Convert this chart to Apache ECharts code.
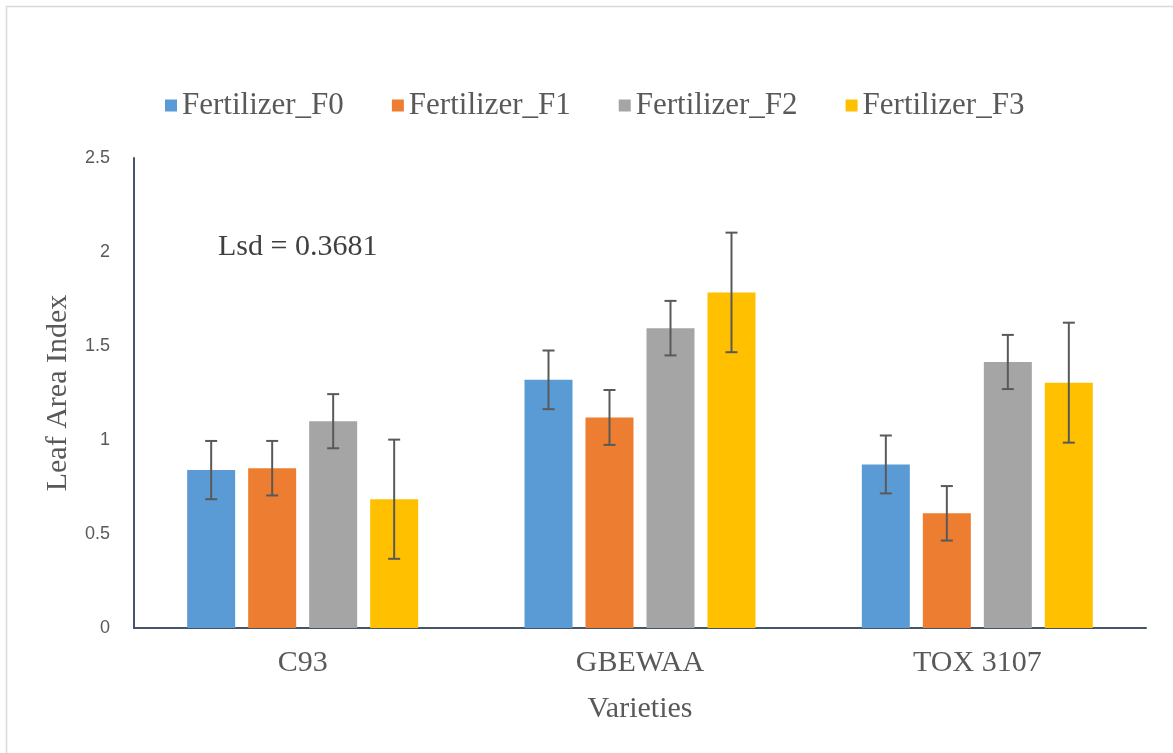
<!DOCTYPE html>
<html>
<head>
<meta charset="utf-8">
<style>
  html, body { margin: 0; padding: 0; background: #ffffff; }
  #chart { width: 1173px; height: 753px; }
</style>
<script src="https://cdn.jsdelivr.net/npm/echarts@6/dist/echarts.min.js"></script>
</head>
<body>
<div id="chart"></div>
<script>
// Leaf area index by variety and fertilizer level (mean ± error)
const categories = ['C93', 'GBEWAA', 'TOX 3107'];
const seriesNames = ['Fertilizer_F0', 'Fertilizer_F1', 'Fertilizer_F2', 'Fertilizer_F3'];
const f0 = [0.84, 1.32, 0.87];
const f1 = [0.85, 1.12, 0.61];
const f2 = [1.10, 1.595, 1.415];
const f3 = [0.685, 1.785, 1.305];
const f0Err = [0.155, 0.156, 0.154];
const f1Err = [0.145, 0.146, 0.145];
const f2Err = [0.144, 0.145, 0.144];
const f3Err = [0.317, 0.318, 0.319];
const yTicks = [0, 0.5, 1, 1.5, 2, 2.5];
const lsdText = 'Lsd = 0.3681';

const colors = ['#5B9BD5', '#ED7D31', '#A5A5A5', '#FFC000'];
const values = [f0, f1, f2, f3];
const errors = [f0Err, f1Err, f2Err, f3Err];

const BAR_W = 48;
const BAR_GAP = 13;
const serif = '"Liberation Serif", "Times New Roman", serif';
const sans = '"Liberation Sans", Arial, sans-serif';

const chart = echarts.init(document.getElementById('chart'), null, { renderer: 'canvas' });

const barSeries = values.map((vals, i) => ({
  name: seriesNames[i],
  type: 'bar',
  data: vals,
  barWidth: BAR_W,
  barGap: (BAR_GAP / BAR_W * 100) + '%',
  itemStyle: { color: colors[i] },
  z: 2
}));

// Error bars drawn as a custom series, offset to sit over each grouped bar
const errorSeries = values.map((vals, i) => ({
  type: 'custom',
  name: seriesNames[i] + ' err',
  data: vals.map((v, k) => [k, v - errors[i][k], v + errors[i][k]]),
  z: 5,
  silent: true,
  renderItem: function (params, api) {
    const k = api.value(0);
    const lo = api.coord([k, api.value(1)]);
    const hi = api.coord([k, api.value(2)]);
    const offset = (i - 1.5) * (BAR_W + BAR_GAP);
    const x = lo[0] + offset;
    const cap = 6;
    const style = { stroke: '#595959', lineWidth: 2 };
    return {
      type: 'group',
      children: [
        { type: 'line', shape: { x1: x, y1: hi[1], x2: x, y2: lo[1] }, style: style },
        { type: 'line', shape: { x1: x - cap, y1: hi[1], x2: x + cap, y2: hi[1] }, style: style },
        { type: 'line', shape: { x1: x - cap, y1: lo[1], x2: x + cap, y2: lo[1] }, style: style }
      ]
    };
  }
}));

chart.setOption({
  backgroundColor: '#ffffff',
  animation: false,
  color: colors,
  legend: {
    data: seriesNames,
    top: 90,
    left: 165,
    padding: 0,
    icon: 'rect',
    itemWidth: 12,
    itemHeight: 12,
    itemGap: 48,
    textStyle: {
      fontFamily: serif,
      fontSize: 31,
      color: '#595959'
    }
  },
  grid: { left: 134, right: 27, top: 158, bottom: 125, containLabel: false },
  xAxis: {
    type: 'category',
    data: categories,
    axisLine: { lineStyle: { color: '#44546A', width: 2 } },
    axisTick: { show: false },
    axisLabel: { fontFamily: serif, fontSize: 30, color: '#595959', margin: 20 },
    name: 'Varieties',
    nameLocation: 'middle',
    nameGap: 66,
    nameTextStyle: { fontFamily: serif, fontSize: 30, color: '#595959' }
  },
  yAxis: {
    type: 'value',
    min: yTicks[0],
    max: yTicks[yTicks.length - 1],
    interval: yTicks[1] - yTicks[0],
    axisLine: { show: true, lineStyle: { color: '#44546A', width: 2 } },
    axisTick: { show: false },
    splitLine: { show: false },
    axisLabel: { fontFamily: sans, fontSize: 18, color: '#595959', margin: 24 },
    name: 'Leaf Area Index',
    nameLocation: 'middle',
    nameGap: 61,
    nameRotate: 90,
    nameTextStyle: { fontFamily: serif, fontSize: 30, color: '#595959' }
  },
  graphic: [
    {
      type: 'rect',
      left: 4, top: 4,
      shape: { width: 1300, height: 900 },
      style: { fill: 'none', stroke: '#D9D9D9', lineWidth: 1.5 },
      silent: true,
      z: -1
    },
    {
      type: 'text',
      left: 218,
      top: 232,
      style: { text: lsdText, font: '30px ' + serif, fill: '#404040' }
    }
  ],
  series: barSeries.concat(errorSeries)
});
</script>
</body>
</html>
